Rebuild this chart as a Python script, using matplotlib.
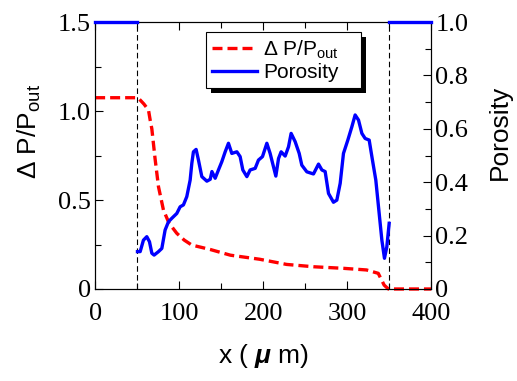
import matplotlib
matplotlib.use("Agg")
import matplotlib.pyplot as plt
from matplotlib.patches import Rectangle
from matplotlib.ticker import MultipleLocator, FixedFormatter, FixedLocator

plt.rcParams['mathtext.fontset'] = 'custom'
plt.rcParams['mathtext.rm'] = 'Liberation Sans'
plt.rcParams['mathtext.it'] = 'Liberation Sans:italic'
plt.rcParams['mathtext.bf'] = 'Liberation Sans:bold:italic'

# pressure drop (left axis)
x_dp = [0, 50, 52, 58, 63.5, 65.5, 67.5, 71.4, 75.4, 81.3, 88, 97.2, 106, 115, 137, 161,
        196, 228, 260, 296, 323, 337, 344, 349, 360, 400]
dp = [1.075, 1.075, 1.07, 1.04, 1.006, 0.95, 0.9, 0.73, 0.575, 0.444, 0.37, 0.313, 0.275,
      0.247, 0.222, 0.19, 0.167, 0.138, 0.125, 0.116, 0.107, 0.088, 0.022, 0.0, 0.0, 0.0]

# porosity (right axis), bulk region
x_por = [50.4, 53.6, 57.5, 61.5, 64.7, 67.5, 70.2, 75.4, 79.4, 83.3, 87.3, 91.3, 97.2,
         101.2, 105.1, 109.1, 113.1, 115.1, 117, 120.2, 123, 127, 133, 137, 139, 142.9,
         146.8, 150.8, 154.8, 158.7, 162.7, 168.7, 172.6, 175.8, 180.6, 184.5, 190.5,
         194.4, 199.2, 204.4, 208.3, 212.3, 215.1, 218.3, 221.4, 226.2, 230.2, 233.3,
         238.1, 242.9, 246, 252, 259.9, 265.9, 269.9, 273.8, 277.8, 283.7, 287.7, 291.7,
         295.6, 300.8, 305.6, 309.5, 313.5, 317.5, 321.4, 326.2, 330.1, 334.1, 338.1,
         341.3, 344.4, 347.2, 350]
por = [0.14, 0.14, 0.183, 0.196, 0.177, 0.134, 0.127, 0.14, 0.152, 0.221, 0.252, 0.265,
       0.283, 0.308, 0.315, 0.346, 0.408, 0.471, 0.514, 0.523, 0.483, 0.421, 0.404, 0.411,
       0.44, 0.415, 0.446, 0.477, 0.514, 0.546, 0.508, 0.514, 0.496, 0.446, 0.421, 0.446,
       0.452, 0.483, 0.496, 0.546, 0.508, 0.458, 0.423, 0.489, 0.514, 0.498, 0.533, 0.583,
       0.552, 0.508, 0.464, 0.439, 0.431, 0.468, 0.446, 0.44, 0.358, 0.325, 0.333, 0.396,
       0.508, 0.558, 0.608, 0.652, 0.633, 0.583, 0.564, 0.558, 0.483, 0.408, 0.283, 0.183,
       0.115, 0.158, 0.246]
# open regions on both sides
x_left = [0, 50]
x_right = [350, 400]
por_open = [1.0, 1.0]
boundaries = [50, 350]

fig = plt.figure(figsize=(5.17, 3.81), dpi=100)
ax = fig.add_axes([0.184, 0.2415, 0.65, 0.7005])
ax2 = ax.twinx()

ax.plot(x_dp, dp, '--', color='#ff0000', lw=2.4, dashes=(3, 1.5), zorder=3, clip_on=False,
        label='Δ P/P$_\\mathregular{out}$')
ax2.plot(x_por, por, '-', color='#0000ff', lw=2.4, label='Porosity')
ax2.plot(x_left, por_open, '-', color='#0000ff', lw=2.4, clip_on=False, zorder=10)
ax2.plot(x_right, por_open, '-', color='#0000ff', lw=2.4, clip_on=False, zorder=10)
for b in boundaries:
    ax.axvline(b, color='black', lw=0.8, ls=(0, (5, 3)))

ax.set_xlim(0, 400)
ax.set_ylim(0, 1.5)
ax2.set_ylim(0, 1.0)

ax.xaxis.set_major_locator(MultipleLocator(100))
ax.xaxis.set_minor_locator(MultipleLocator(50))
ax.yaxis.set_major_locator(FixedLocator([0, 0.5, 1.0, 1.5]))
ax.yaxis.set_major_formatter(FixedFormatter(['0', '0.5', '1.0', '1.5']))
ax.yaxis.set_minor_locator(MultipleLocator(0.25))
ax2.yaxis.set_major_locator(FixedLocator([0, 0.2, 0.4, 0.6, 0.8, 1.0]))
ax2.yaxis.set_major_formatter(FixedFormatter(['0', '0.2', '0.4', '0.6', '0.8', '1.0']))
ax2.yaxis.set_minor_locator(MultipleLocator(0.1))

ax.tick_params(which='both', direction='in', top=True, right=False, width=0.8)
ax.tick_params(which='major', length=6, labelsize=19, pad=3)
ax.tick_params(axis='x', which='major', pad=10)
ax.tick_params(which='minor', length=4)
ax2.tick_params(which='both', direction='in', width=0.8)
ax2.tick_params(which='major', length=6, labelsize=19, pad=3)
ax2.tick_params(which='minor', length=4)
for a in (ax, ax2):
    for lab in a.get_xticklabels() + a.get_yticklabels():
        lab.set_family('Liberation Serif')
    for s in a.spines.values():
        s.set_linewidth(0.8)

ax.set_xlabel('x ( $\\mathbf{\\mu}$ m)', family='Liberation Sans', fontsize=19, labelpad=12)
ax.set_ylabel('Δ P/P$_\\mathregular{out}$', family='Liberation Sans', fontsize=19)
ax2.set_ylabel('Porosity', family='Liberation Sans', fontsize=19)
# y labels sit a bit above the axis centre in the reference
ax.yaxis.set_label_coords(-0.155, 0.59)
ax2.yaxis.set_label_coords(1.17, 0.585)

# legend box with a hard black shadow
h1, l1 = ax.get_legend_handles_labels()
h2, l2 = ax2.get_legend_handles_labels()
leg = ax2.legend(h1 + h2, l1 + l2, loc='upper left',
                 bbox_to_anchor=(0.3304, 0.7528, 0.4613, 0.2097), mode='expand',
                 fancybox=False, shadow=False,
                 prop={'family': 'Liberation Sans', 'size': 15},
                 handlelength=2.15, handletextpad=0.3, borderpad=0.3, labelspacing=0.12,
                 borderaxespad=0)
leg.get_frame().set_edgecolor('black')
leg.get_frame().set_linewidth(0.8)
leg.get_frame().set_alpha(1)
leg.set_zorder(20)

fig.canvas.draw()
bb = leg.get_window_extent().transformed(fig.transFigure.inverted())
dx, dy = 5 / 517, 5 / 381
shadow = Rectangle((bb.x0 + dx, bb.y0 - dy), bb.width, bb.height, transform=fig.transFigure,
                   facecolor='black', edgecolor='none', zorder=19)
ax2.add_artist(shadow)

fig.savefig('out.png', dpi=100)
